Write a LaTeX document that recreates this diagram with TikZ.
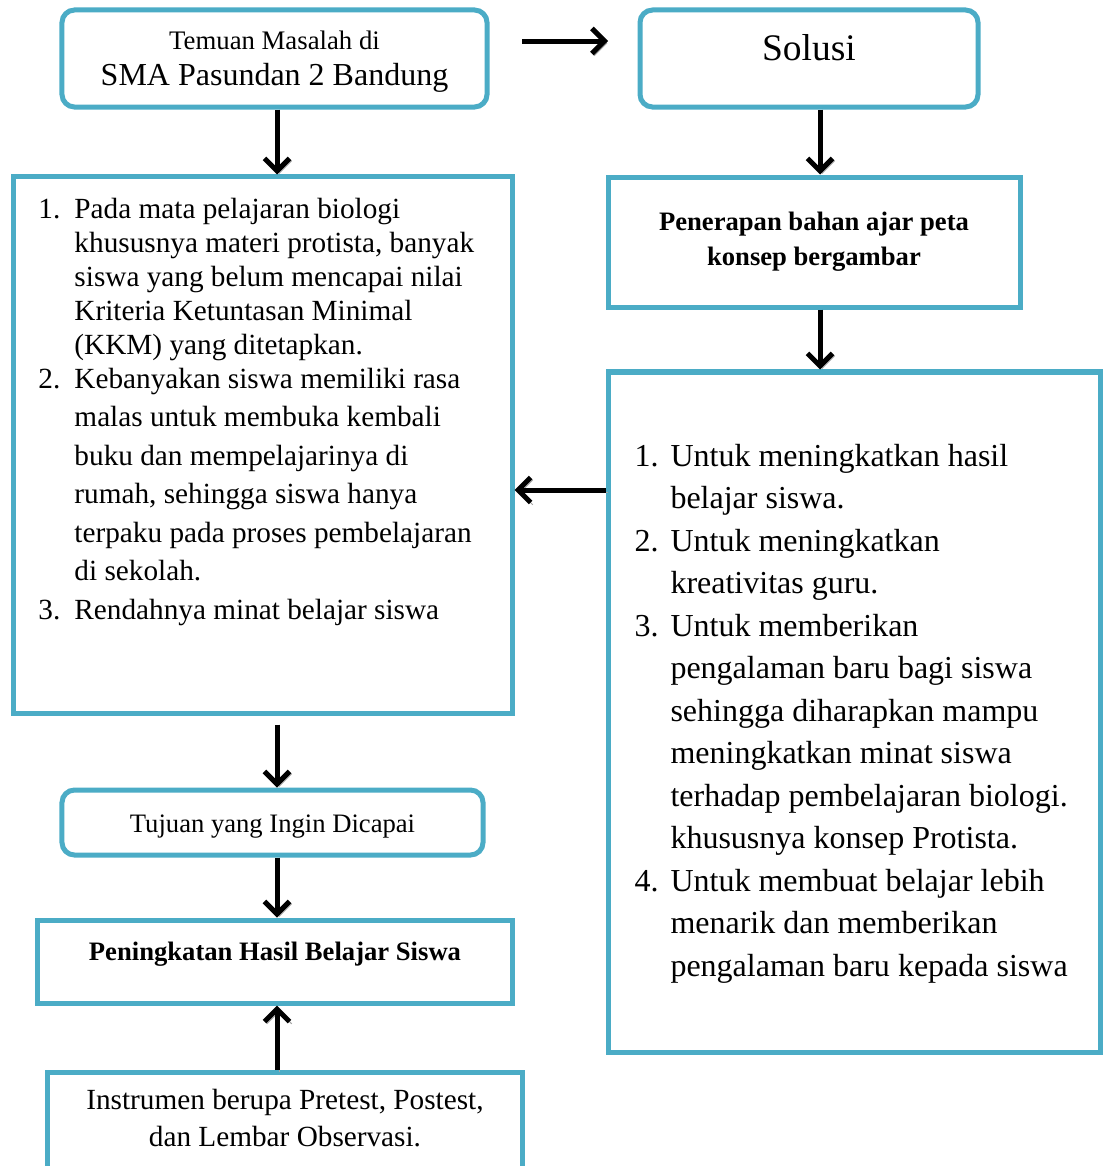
\documentclass[tikz,border=0pt]{standalone}
\usepackage{fontspec}
\setmainfont{Liberation Serif}
\usepackage{xcolor}
\usepackage{tikz}
\usetikzlibrary{arrows.meta, positioning, calc}
\definecolor{boxblue}{HTML}{4BACC6}
\tikzstyle{roundbox} = [rectangle, rounded corners=5pt, line width=2pt, draw=boxblue, fill=white, align=center, inner sep=0pt]
\tikzstyle{plainbox} = [rectangle, line width=2pt, draw=boxblue, fill=white, align=center, inner sep=0pt]
\tikzstyle{listtext} = [anchor=base west, inner sep=0pt, align=left]
\tikzstyle{arrow} = [line width=2pt,->,>={Straight Barb[length=5pt,width=10pt]}, preaction={draw=black!35, transform canvas={xshift=0.9pt, yshift=-0.9pt}}]

\begin{document}
\begin{tikzpicture}[x=0.4pt, y=-0.4pt]
\useasboundingbox (0,0) rectangle (1107,1166);
\clip (0,0) rectangle (1107,1166);

% boxes
\node (temuan) [roundbox, minimum width=170pt, minimum height=38.8pt, font=\fontsize{12.8}{14.4}\selectfont, text depth=0pt] at (274.5,58.5)
  {{\fontsize{10.7}{12}\selectfont Temuan Masalah di}\\SMA Pasundan 2 Bandung};
\node (solusi) [roundbox, minimum width=135.2pt, minimum height=38.8pt, font=\fontsize{15}{16}\selectfont, text height=9.9pt, text depth=8.7pt] at (809,58.5) {Solusi};
\node (problem) [plainbox, minimum width=199.2pt, minimum height=214.4pt] at (263,445) {};
\node (penerapan) [plainbox, minimum width=164.8pt, minimum height=52pt, font=\fontsize{10.65}{14}\selectfont\bfseries] at (814,242)
  {Penerapan bahan ajar peta\\konsep bergambar};
\node (benefit) [plainbox, minimum width=196.8pt, minimum height=272pt] at (854,712) {};
\node (tujuan) [roundbox, minimum width=168.4pt, minimum height=26pt, font=\fontsize{10.65}{12}\selectfont, text height=8.2pt, text depth=0pt] at (272.5,822.5) {Tujuan yang Ingin Dicapai};
\node (hasil) [plainbox, minimum width=189.6pt, minimum height=33.2pt, font=\fontsize{10.65}{13}\selectfont\bfseries, text height=7.2pt, text depth=8.2pt] at (275,961.5) {Peningkatan Hasil Belajar Siswa};
\node (instrumen) [plainbox, minimum width=189.6pt, minimum height=40pt, anchor=north, font=\fontsize{11.7}{14.8}\selectfont, text depth=3.4pt] at (285,1070)
  {Instrumen berupa Pretest, Postest,\\dan Lembar Observasi.};

% list texts
\node (problist) [listtext, font=\fontsize{11.7}{13.6}\selectfont] at (38,218) {%
\begin{tabular}[t]{@{}p{14.4pt}@{}l@{}}
1. & Pada mata pelajaran biologi\\
   & khususnya materi protista, banyak\\
   & siswa yang belum mencapai nilai\\
   & Kriteria Ketuntasan Minimal\\
   & (KKM) yang ditetapkan.\\
2. & Kebanyakan siswa memiliki rasa\\[1.8pt]
   & malas untuk membuka kembali\\[1.8pt]
   & buku dan mempelajarinya di\\[1.8pt]
   & rumah, sehingga siswa hanya\\[1.8pt]
   & terpaku pada proses pembelajaran\\[1.8pt]
   & di sekolah.\\[1.8pt]
3. & Rendahnya minat belajar siswa
\end{tabular}};
\node (benlist) [listtext, font=\fontsize{12.8}{17}\selectfont] at (634,466) {%
\begin{tabular}[t]{@{}p{14.4pt}@{}l@{}}
1. & Untuk meningkatkan hasil\\
   & belajar siswa.\\
2. & Untuk meningkatkan\\
   & kreativitas guru.\\
3. & Untuk memberikan\\
   & pengalaman baru bagi siswa\\
   & sehingga diharapkan mampu\\
   & meningkatkan minat siswa\\
   & terhadap pembelajaran biologi.\\
   & khususnya konsep Protista.\\
4. & Untuk membuat belajar lebih\\
   & menarik dan memberikan\\
   & pengalaman baru kepada siswa
\end{tabular}};

% arrows
\coordinate (lcol) at (277,0);
\coordinate (rcol) at (820,0);
\coordinate (toprow) at (0,41);
\coordinate (midrow) at (0,490);
\draw [arrow, shorten <=13pt, shorten >=11.8pt] (temuan.east |- toprow) -- (solusi.west |- toprow);
\draw [arrow] (temuan.south -| lcol) -- (problem.north -| lcol);
\draw [arrow] (solusi.south -| rcol) -- (penerapan.north -| rcol);
\draw [arrow] (penerapan.south -| rcol) -- (benefit.north -| rcol);
\draw [arrow] (benefit.west |- midrow) -- (problem.east |- midrow);
\draw [arrow, shorten <=3.6pt] (problem.south -| lcol) -- (tujuan.north -| lcol);
\draw [arrow] (tujuan.south -| lcol) -- (hasil.north -| lcol);
\draw [arrow] (instrumen.north -| lcol) -- (hasil.south -| lcol);
\end{tikzpicture}
\end{document}
